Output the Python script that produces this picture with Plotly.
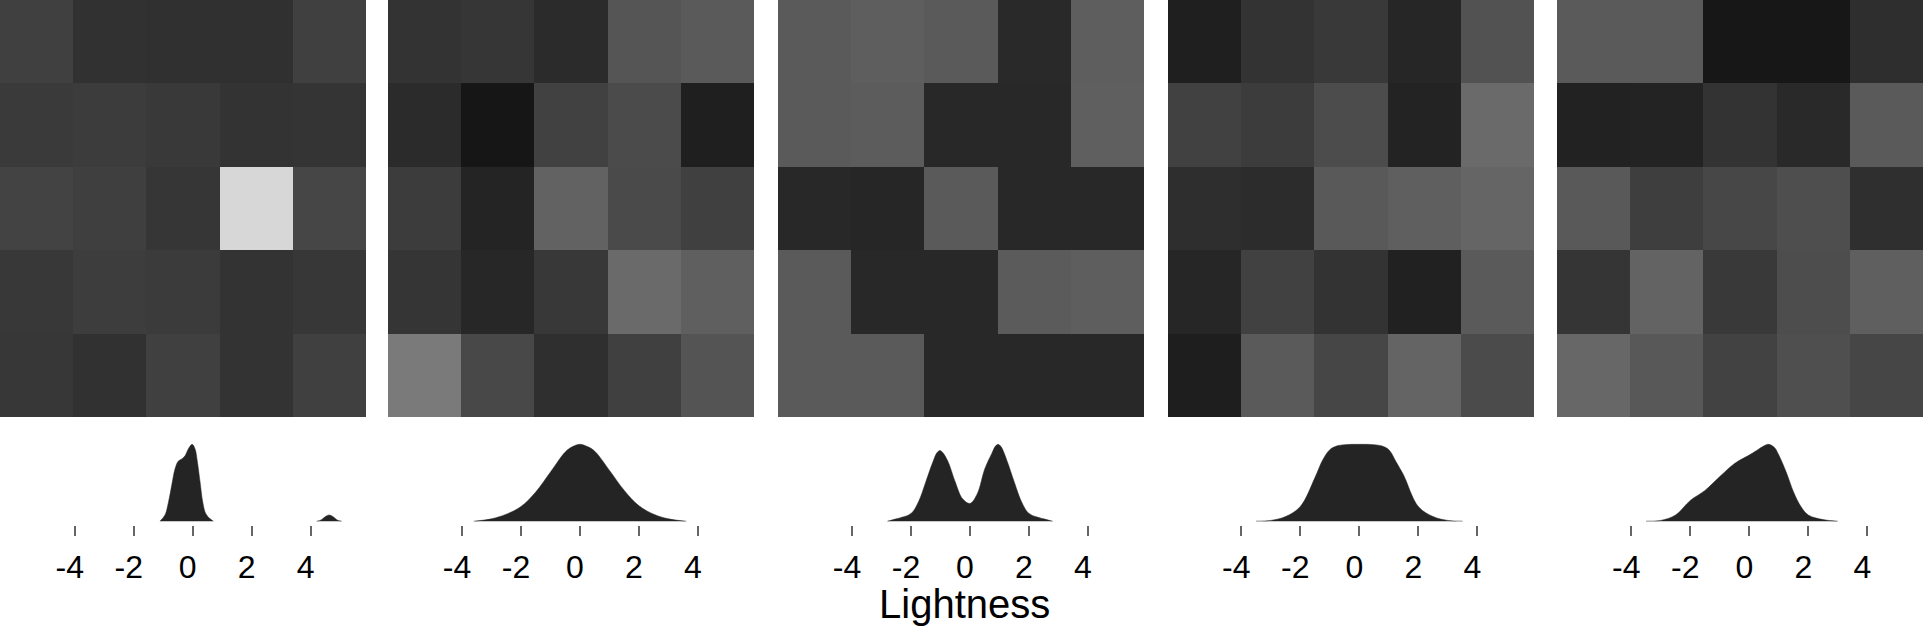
import plotly.graph_objects as go

W, H = 1923, 629

# gray level (0-255) of each cell, rows top to bottom
panel1 = [[64, 49, 48, 48, 64],
          [58, 60, 57, 51, 52],
          [67, 63, 54, 215, 70],
          [56, 61, 59, 51, 55],
          [55, 49, 64, 51, 64]]
panel2 = [[51, 54, 43, 85, 90],
          [43, 22, 65, 75, 31],
          [60, 36, 98, 74, 64],
          [53, 39, 56, 106, 95],
          [122, 72, 47, 64, 84]]
panel3 = [[90, 94, 90, 41, 94],
          [90, 92, 40, 40, 95],
          [40, 38, 90, 40, 40],
          [90, 40, 40, 91, 94],
          [90, 90, 40, 40, 40]]
panel4 = [[31, 51, 57, 38, 82],
          [65, 60, 76, 35, 106],
          [46, 44, 89, 95, 101],
          [38, 65, 51, 33, 90],
          [30, 90, 70, 100, 75]]
panel5 = [[90, 90, 23, 23, 46],
          [34, 35, 51, 41, 90],
          [89, 62, 71, 78, 47],
          [53, 99, 57, 77, 95],
          [103, 88, 66, 79, 70]]
panels = [panel1, panel2, panel3, panel4, panel5]

# density of lightness under each panel (peak = 1)
dens_x1 = [-1.11, -0.94, -0.82, -0.71, -0.6, -0.49, -0.37, -0.26, -0.15, -0.02, 0.08, 0.16, 0.25, 0.34, 0.44, 0.59, 0.7,
           None, 4.2, 4.35, 4.5, 4.63, 4.75, 4.9, 5.05]
dens_y1 = [0, 0.08, 0.25, 0.47, 0.68, 0.78, 0.81, 0.85, 0.94, 1.0, 0.94, 0.77, 0.51, 0.25, 0.1, 0.03, 0,
           None, 0, 0.015, 0.06, 0.08, 0.06, 0.015, 0]
dens_x2 = [-3.6, -3, -2.5, -2, -1.5, -1, -0.5, -0.25, 0, 0.25, 0.5, 1, 1.5, 2, 2.5, 3, 3.6]
dens_y2 = [0, 0.03, 0.09, 0.19, 0.38, 0.64, 0.9, 0.97, 1.0, 0.97, 0.91, 0.66, 0.4, 0.2, 0.09, 0.03, 0]
dens_x3 = [-2.8, -2.5, -2, -1.75, -1.5, -1.25, -1.12, -1.02, -0.92, -0.75, -0.5, -0.25, 0, 0.25, 0.5, 0.75,
           0.85, 0.95, 1.05, 1.25, 1.5, 1.75, 2, 2.5, 2.8]
dens_y3 = [0, 0.03, 0.1, 0.25, 0.51, 0.78, 0.89, 0.92, 0.89, 0.78, 0.51, 0.29, 0.23, 0.36, 0.68, 0.89,
           0.97, 1.0, 0.97, 0.79, 0.51, 0.25, 0.1, 0.03, 0]
dens_x4 = [-3.5, -3, -2.5, -2, -1.5, -1.25, -1, -0.75, -0.5, 0, 0.5, 0.75, 1, 1.25, 1.5, 2, 2.5, 3, 3.5]
dens_y4 = [0, 0.01, 0.06, 0.19, 0.57, 0.79, 0.93, 0.98, 0.995, 1.0, 0.995, 0.98, 0.93, 0.77, 0.6, 0.19, 0.06, 0.01, 0]
dens_x5 = [-3.5, -3, -2.5, -2, -1.5, -1, -0.5, 0, 0.25, 0.5, 0.65, 0.85, 1, 1.25, 1.5, 1.75, 2, 2.5, 3]
dens_y5 = [0, 0.01, 0.08, 0.27, 0.4, 0.58, 0.75, 0.86, 0.92, 0.98, 1.0, 0.96, 0.86, 0.64, 0.38, 0.19, 0.08, 0.02, 0]
dens_x = [dens_x1, dens_x2, dens_x3, dens_x4, dens_x5]
dens_y = [dens_y1, dens_y2, dens_y3, dens_y4, dens_y5]

tick_vals = [-4, -2, 0, 2, 4]
tick_text = ["-4", "-2", "0", "2", "4"]

heat_left = [0, 388, 778, 1168, 1557]
heat_width = 366
axis_m4 = [74.7, 462, 852, 1241.3, 1631.3]   # pixel of x=-4 under each panel
ppu = 29.5

fig = go.Figure()
layout = {}
for i in range(5):
    n = i + 1
    hx = "x" if n == 1 else "x%d" % n
    hy = "y" if n == 1 else "y%d" % n
    fig.add_trace(go.Heatmap(z=panels[i], zmin=0, zmax=255,
                             colorscale=[[0, "black"], [1, "white"]],
                             showscale=False, xaxis=hx, yaxis=hy, hoverinfo="skip"))
    layout["xaxis%d" % n] = dict(domain=[heat_left[i] / W, min(1, (heat_left[i] + heat_width) / W)],
                                 visible=False, anchor=hy)
    layout["yaxis%d" % n] = dict(domain=[1 - 417 / H, 1], visible=False,
                                 autorange="reversed", anchor=hx)

    m = n + 5
    fig.add_trace(go.Scatter(x=dens_x[i], y=dens_y[i], mode="lines", fill="tozeroy",
                             connectgaps=False,
                             line=dict(color="#242424", width=0.5, shape="spline", smoothing=1.0),
                             fillcolor="#242424", xaxis="x%d" % m, yaxis="y%d" % m,
                             hoverinfo="skip", showlegend=False))
    x0 = axis_m4[i] - 1.5 * ppu
    x1 = axis_m4[i] + 9.5 * ppu
    layout["xaxis%d" % m] = dict(domain=[x0 / W, min(1, x1 / W)], range=[-5.5, 5.5],
                                 anchor="y%d" % m, tickvals=tick_vals, ticktext=tick_text,
                                 ticks="outside", ticklen=10, tickwidth=1.5, tickcolor="#666666",
                                 showgrid=False, zeroline=False, showline=False,
                                 ticklabelstandoff=4, ticklabelshift=-5,
                                 tickfont=dict(size=32, color="black"))
    layout["yaxis%d" % m] = dict(domain=[1 - 525 / H, 1 - 442 / H], range=[-0.05, 1.03],
                                 visible=False, anchor="x%d" % m)

fig.update_layout(**layout)
fig.add_annotation(text="Lightness", x=964 / W, y=1 - 604 / H, xref="paper", yref="paper",
                   xanchor="center", yanchor="middle", showarrow=False,
                   font=dict(size=40, color="black"))
fig.update_layout(width=W, height=H, margin=dict(l=0, r=0, t=0, b=0),
                  paper_bgcolor="white", plot_bgcolor="white",
                  font=dict(family="Liberation Sans, Arial, sans-serif"),
                  showlegend=False)
fig.write_html("out.html", config={"displayModeBar": False},
               post_script="document.body.style.margin='0';")
